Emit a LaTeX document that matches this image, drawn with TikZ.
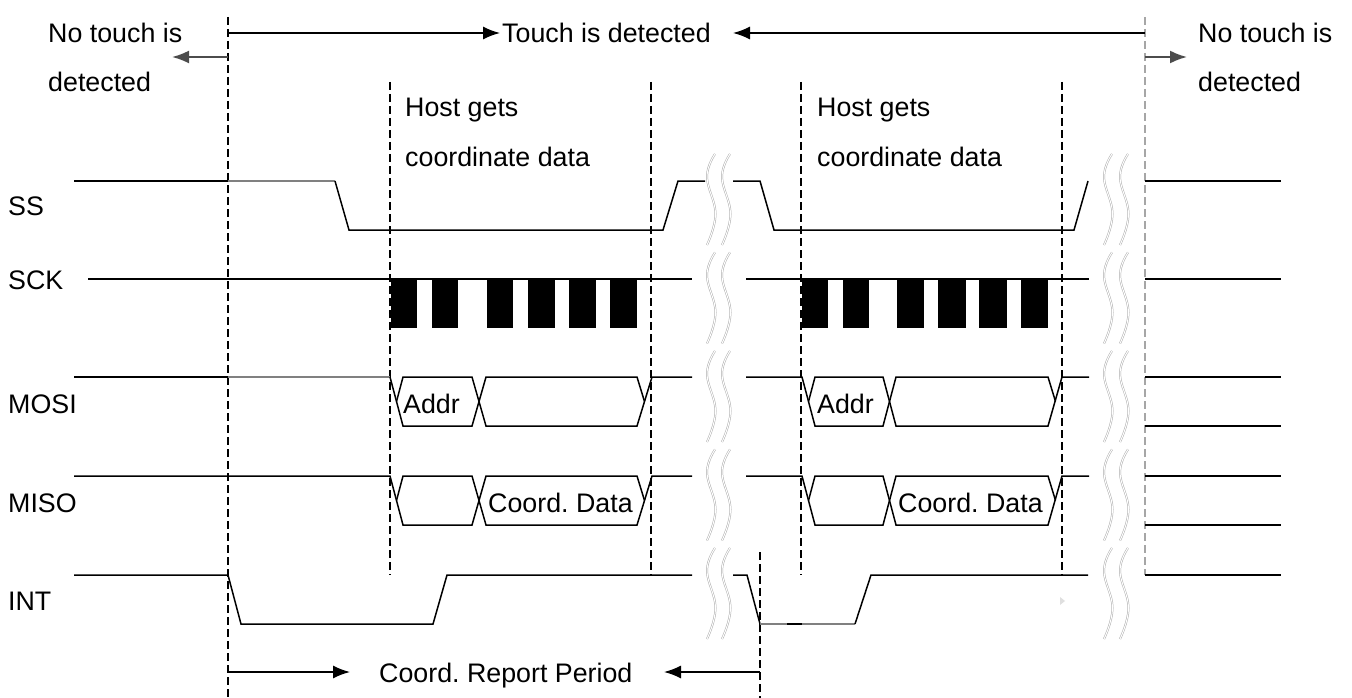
\documentclass[tikz,border=0pt]{standalone}
\usepackage{fontspec}
\setmainfont{Liberation Sans}
\usetikzlibrary{arrows.meta}
\frenchspacing
\begin{document}
\begin{tikzpicture}[x=1pt,y=-1pt,
  sig/.style={line width=1.5pt, line join=miter},
  sigg/.style={line width=1.5pt, draw=black!50},
  dsh/.style={line width=1.2pt, dash pattern=on 8pt off 4pt},
  lbl/.style={anchor=base west, inner sep=0pt, font=\fontsize{26.8}{32}\selectfont},
  arr/.style={line width=1.5pt, -{Latex[length=17pt,width=13pt]}},
  brk/.style={draw=gray!65, double=white, double distance=1pt, line width=0.5pt},
  brkmark/.pic={\draw[brk] plot[smooth,tension=0.7] coordinates {(4,0) (-4,23) (4.5,60) (-4,91)};}
]
\useasboundingbox (0,0) rectangle (1352,698);

% ---------- texts ----------
\node[lbl] (nt1a) at (48,43) {No touch is};
\node[lbl] (nt1b) at (48,92) {detected};
\node[lbl] (touch) at (502,43) {Touch is detected};
\node[lbl] (nt2a) at (1198,43) {No touch is};
\node[lbl] (nt2b) at (1198,92) {detected};
\node[lbl] (host1a) at (405,117) {Host gets};
\node[lbl] (host1b) at (405,166) {coordinate data};
\node[lbl] (host2a) at (817,117) {Host gets};
\node[lbl] (host2b) at (817,166) {coordinate data};
\node[lbl] (lss) at (8,215) {SS};
\node[lbl] (lsck) at (8,289) {SCK};
\node[lbl] (lmosi) at (8,413) {MOSI};
\node[lbl] (lmiso) at (8,512) {MISO};
\node[lbl] (lint) at (8,610) {INT};
\node[lbl] (addr1) at (403,413) {Addr};
\node[lbl] (addr2) at (817,413) {Addr};
\node[lbl] (cd1) at (488,512) {Coord. Data};
\node[lbl] (cd2) at (898,512) {Coord. Data};
\node[lbl] (crp) at (379,682) {Coord. Report Period};

% ---------- dashed verticals ----------
\draw[dsh] (228,17) -- (228,698);
\draw[dsh] (390,82) -- (390,575);
\draw[dsh] (651,82) -- (651,575);
\draw[dsh] (801,82) -- (801,575);
\draw[dsh] (1062,82) -- (1062,575);
\draw[dsh] (760,552) -- (760,698);
\draw[dsh, draw=gray!70] (1145,17) -- (1145,575);

% ---------- arrows ----------
\coordinate (tl) at (228,33);
\coordinate (ta) at (500,33);
\coordinate (tr) at (1145,33);
\coordinate (tb) at (733,33);
\draw[arr] (tl) -- (ta);
\draw[arr] (tr) -- (tb);
\coordinate (sl0) at (228,57);
\coordinate (sl1) at (172,57);
\coordinate (sr0) at (1145,57);
\coordinate (sr1) at (1187,57);
\draw[arr, draw=black!70, line width=2pt] (sl0) -- (sl1);
\draw[arr, draw=black!70, line width=2pt] (sr0) -- (sr1);
\coordinate (bl0) at (228,672);
\coordinate (bl1) at (350,672);
\coordinate (br0) at (760,672);
\coordinate (br1) at (664,672);
\draw[arr] (bl0) -- (bl1);
\draw[arr] (br0) -- (br1);

% ---------- SS ----------
\draw[sig] (74,181) -- (228,181);
\draw[sigg] (228,181) -- (335,181);
\draw[sig] (335,181) -- (349,230) -- (663,230) -- (678,181) -- (705,181);
\draw[sig] (733,181) -- (760,181) -- (774,230) -- (1074,230) -- (1088,181);
\draw[sig] (1145,181) -- (1281,181);

% ---------- SCK ----------
\draw[sig] (88,279) -- (692,279);
\draw[sig] (746,279) -- (1089,279);
\draw[sig] (1145,279) -- (1281,279);
\foreach \a/\b in {391/417,432/458,487/513,528/555,569/596,610/637,
                   802/828,843/869,897/924,938/966,979/1007,1021/1048}
  {\fill (\a,279) rectangle (\b,328);}

% ---------- MOSI ----------
\draw[sig] (74,377) -- (228,377);
\draw[sigg] (228,377) -- (390,377);
\draw[sig] (390,377) -- (403,426) -- (472,426) -- (486,377) -- (637,377) -- (644.5,401.5);
\draw[sig] (396.5,401.5) -- (403,377) -- (472,377) -- (486,426) -- (637,426) -- (652,377) -- (692,377);
\draw[sig] (746,377) -- (802,377) -- (815,426) -- (883,426) -- (896,377) -- (1048,377) -- (1055.5,401.5);
\draw[sig] (808.5,401.5) -- (815,377) -- (883,377) -- (896,426) -- (1048,426) -- (1062,377) -- (1089,377);
\draw[sig] (1145,377) -- (1281,377);
\draw[sig] (1145,426) -- (1281,426);

% ---------- MISO ----------
\draw[sig] (74,476) -- (390,476) -- (403,525) -- (472,525) -- (486,476) -- (637,476) -- (644.5,500.5);
\draw[sig] (396.5,500.5) -- (403,476) -- (472,476) -- (486,525) -- (637,525) -- (652,476) -- (692,476);
\draw[sig] (746,476) -- (802,476) -- (815,525) -- (883,525) -- (896,476) -- (1048,476) -- (1055.5,500.5);
\draw[sig] (808.5,500.5) -- (815,476) -- (883,476) -- (896,525) -- (1048,525) -- (1062,476) -- (1089,476);
\draw[sig] (1145,476) -- (1281,476);
\draw[sig] (1145,525) -- (1281,525);

% ---------- INT ----------
\draw[sig] (74,575) -- (228,575) -- (241,624) -- (433,624) -- (447,575) -- (692,575);
\draw[sig] (733,575) -- (747,575) -- (760,624);
\draw[sigg] (760,624) -- (855,624);
\draw[sig] (787,624) -- (802,624);
\draw[sig] (855,624) -- (871,575) -- (1088,575);
\draw[sig] (1145,575) -- (1281,575);
\fill[gray!25] (1060,597) -- (1065,601) -- (1060,605) -- cycle;

% ---------- break marks ----------
\foreach \yy in {154,252.5,351,449.5,548}
  \foreach \xx in {711,726,1108,1124}
    {\pic at (\xx,\yy) {brkmark};}
\end{tikzpicture}
\end{document}
